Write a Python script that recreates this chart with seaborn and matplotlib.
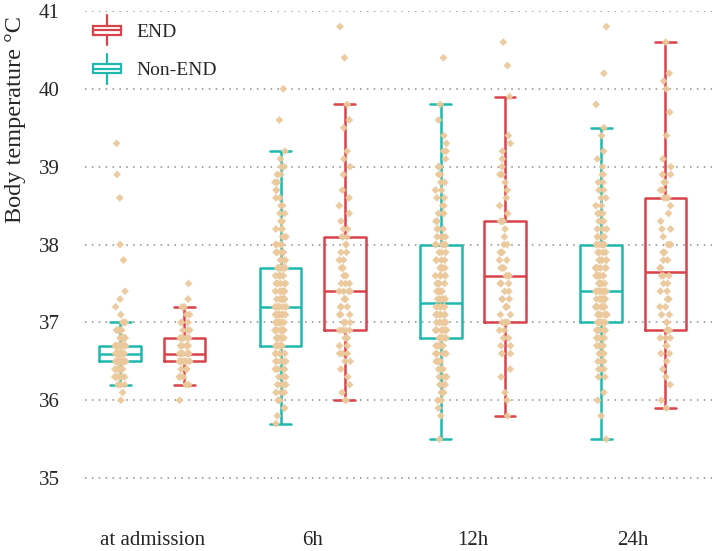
import numpy as np
import pandas as pd
import matplotlib
matplotlib.use("Agg")
import matplotlib.pyplot as plt
import seaborn as sns
from matplotlib.legend_handler import HandlerBase
from matplotlib.patches import Rectangle
from matplotlib.lines import Line2D

# time points and groups
TIMES = ["at admission", "6h", "12h", "24h"]
GROUPS = ["Non-END", "END"]

# observed temperatures as (value, number of patients)
adm_non_end = [(36.0, 1), (36.1, 1), (36.2, 3), (36.3, 8), (36.4, 10), (36.5, 18),
               (36.6, 25), (36.7, 22), (36.8, 8), (36.9, 5), (37.0, 4), (37.1, 1),
               (37.2, 1), (37.3, 1), (37.4, 1), (37.8, 1), (38.0, 1), (38.6, 1),
               (38.9, 1), (39.3, 1)]
adm_end = [(36.0, 1), (36.2, 2), (36.3, 3), (36.4, 3), (36.5, 10), (36.6, 8),
           (36.7, 6), (36.8, 8), (36.9, 3), (37.0, 3), (37.1, 2), (37.2, 2),
           (37.3, 1), (37.5, 1)]

h6_non_end = [(35.7, 1), (35.8, 1), (35.9, 2), (36.0, 3), (36.1, 3), (36.2, 4),
              (36.3, 4), (36.4, 5), (36.5, 6), (36.6, 6), (36.7, 8), (36.8, 8),
              (36.9, 8), (37.0, 9), (37.1, 8), (37.2, 8), (37.3, 7), (37.4, 7),
              (37.5, 7), (37.6, 6), (37.7, 8), (37.8, 4), (37.9, 4), (38.0, 4),
              (38.1, 3), (38.2, 3), (38.3, 3), (38.4, 2), (38.5, 2), (38.6, 2),
              (38.7, 2), (38.8, 2), (38.9, 2), (39.0, 2), (39.1, 1), (39.2, 1),
              (39.6, 1), (40.0, 1)]
h6_end = [(36.0, 2), (36.1, 1), (36.2, 1), (36.3, 1), (36.4, 1), (36.5, 2),
          (36.6, 3), (36.7, 2), (36.8, 3), (36.9, 4), (37.0, 3), (37.1, 3),
          (37.2, 3), (37.3, 3), (37.4, 4), (37.5, 3), (37.6, 2), (37.7, 3),
          (37.8, 2), (37.9, 2), (38.0, 2), (38.1, 3), (38.2, 2), (38.3, 1),
          (38.4, 1), (38.5, 1), (38.6, 1), (38.7, 1), (38.9, 1), (39.0, 1),
          (39.1, 1), (39.2, 1), (39.5, 1), (39.6, 1), (39.8, 1), (40.4, 1),
          (40.8, 1)]

h12_non_end = [(35.5, 1), (35.8, 1), (35.9, 1), (36.0, 3), (36.1, 3), (36.2, 4),
               (36.3, 4), (36.4, 5), (36.5, 5), (36.6, 5), (36.7, 5), (36.8, 8),
               (36.9, 8), (37.0, 8), (37.1, 7), (37.2, 7), (37.3, 7), (37.4, 6),
               (37.5, 6), (37.6, 5), (37.7, 5), (37.8, 4), (37.9, 3), (38.0, 6),
               (38.1, 4), (38.2, 3), (38.3, 3), (38.4, 3), (38.5, 2), (38.6, 2),
               (38.7, 2), (38.8, 2), (38.9, 2), (39.0, 2), (39.1, 1), (39.2, 2),
               (39.3, 1), (39.4, 1), (39.6, 1), (39.8, 1), (40.4, 1)]
h12_end = [(35.8, 1), (36.0, 1), (36.1, 1), (36.3, 1), (36.4, 1), (36.6, 2),
           (36.7, 2), (36.8, 2), (36.9, 2), (37.0, 5), (37.1, 2), (37.2, 3),
           (37.3, 3), (37.4, 2), (37.5, 3), (37.6, 4), (37.7, 3), (37.8, 2),
           (37.9, 3), (38.0, 2), (38.1, 1), (38.2, 1), (38.3, 3), (38.4, 1),
           (38.5, 1), (38.6, 1), (38.7, 1), (38.8, 1), (38.9, 2), (39.0, 1),
           (39.1, 1), (39.2, 1), (39.3, 1), (39.4, 1), (39.9, 1), (40.3, 1),
           (40.6, 1)]

h24_non_end = [(35.5, 1), (35.8, 1), (36.0, 1), (36.1, 1), (36.3, 2), (36.4, 3),
               (36.5, 4), (36.6, 5), (36.7, 5), (36.8, 6), (36.9, 7), (37.0, 10),
               (37.1, 8), (37.2, 8), (37.3, 8), (37.4, 9), (37.5, 8), (37.6, 7),
               (37.7, 7), (37.8, 6), (37.9, 4), (38.0, 8), (38.1, 4), (38.2, 3),
               (38.3, 3), (38.4, 3), (38.5, 2), (38.6, 2), (38.7, 2), (38.8, 2),
               (38.9, 2), (39.0, 1), (39.1, 1), (39.2, 1), (39.4, 1), (39.5, 1),
               (39.8, 1), (40.2, 1), (40.8, 1)]
h24_end = [(35.9, 1), (36.0, 1), (36.2, 1), (36.3, 1), (36.4, 1), (36.5, 1),
           (36.6, 2), (36.7, 2), (36.8, 3), (36.9, 4), (37.0, 2), (37.1, 2),
           (37.2, 2), (37.3, 2), (37.4, 2), (37.5, 2), (37.6, 3), (37.7, 2),
           (37.8, 2), (37.9, 2), (38.0, 3), (38.1, 1), (38.2, 2), (38.3, 1),
           (38.4, 1), (38.5, 1), (38.6, 3), (38.7, 2), (38.8, 2), (38.9, 2),
           (39.0, 1), (39.1, 1), (39.4, 1), (39.7, 1), (40.0, 1), (40.1, 1),
           (40.2, 1), (40.6, 1)]

SERIES = {
    ("at admission", "Non-END"): adm_non_end, ("at admission", "END"): adm_end,
    ("6h", "Non-END"): h6_non_end, ("6h", "END"): h6_end,
    ("12h", "Non-END"): h12_non_end, ("12h", "END"): h12_end,
    ("24h", "Non-END"): h24_non_end, ("24h", "END"): h24_end,
}

TEAL = "#1FB8AE"
RED = "#D8434A"
DOT = "#EBC99C"

rows = []
for (t, g), pairs in SERIES.items():
    for v, n in pairs:
        rows += [(t, g, v)] * n
df = pd.DataFrame(rows, columns=["time", "group", "temp"])


# little box glyph for the legend
class BoxHandler(HandlerBase):
    def create_artists(self, legend, orig_handle, xdescent, ydescent,
                       width, height, fontsize, trans):
        c = orig_handle.get_edgecolor()
        x0, y0 = -xdescent, -ydescent
        xm = x0 + width / 2
        box = Rectangle((x0, y0 + 0.2 * height), width, 0.6 * height,
                        fill=False, edgecolor=c, lw=1.6, transform=trans)
        med = Line2D([x0, x0 + width], [y0 + 0.5 * height] * 2, color=c, lw=1.6, transform=trans)
        w1 = Line2D([xm, xm], [y0 - 0.5 * height, y0 + 0.2 * height], color=c, lw=1.6, transform=trans)
        w2 = Line2D([xm, xm], [y0 + 0.8 * height, y0 + 1.5 * height], color=c, lw=1.6, transform=trans)
        return [box, med, w1, w2]


sns.set_style("white")
plt.rcParams["font.family"] = ["Liberation Serif", "DejaVu Serif"]
np.random.seed(3)

fig = plt.figure(figsize=(7.14, 5.51), dpi=100)
ax = fig.add_axes([0.119, 0.056, 0.878, 0.924])

sns.boxplot(data=df, x="time", y="temp", hue="group", order=TIMES, hue_order=GROUPS,
            palette={"Non-END": TEAL, "END": RED}, fill=False, showfliers=False,
            width=0.8, gap=0.35, linewidth=1.8, legend=False, ax=ax)
sns.stripplot(data=df, x="time", y="temp", hue="group", order=TIMES, hue_order=GROUPS,
              palette={"Non-END": DOT, "END": DOT}, dodge=True, jitter=0.07,
              marker="D", size=4, linewidth=0, alpha=0.95, legend=False, zorder=3, ax=ax)

ax.set_ylim(34.46, 41.0)
ax.set_xlim(-0.42, 3.49)
ax.set_yticks([35, 36, 37, 38, 39, 40, 41])
ax.yaxis.grid(True, color="#8a8a8a", linestyle=(0, (1, 3.5)), linewidth=1.1)
ax.xaxis.grid(False)
ax.set_axisbelow(True)
for s in ax.spines.values():
    s.set_visible(False)
ax.tick_params(axis="y", length=0, pad=18, labelsize=15)
ax.tick_params(axis="x", length=0, pad=8, labelsize=15)
ax.set_xlabel("")
ax.set_ylabel("Body temperature °C", fontsize=17.5)
ax.yaxis.set_label_coords(-0.094, 0.786)

handles = [Rectangle((0, 0), 1, 1, edgecolor=RED, facecolor="none"),
           Rectangle((0, 0), 1, 1, edgecolor=TEAL, facecolor="none")]
ax.legend(handles, ["END", "Non-END"], loc="upper left", bbox_to_anchor=(-0.005, 1.0),
          frameon=False, fontsize=14, handlelength=1.4, handleheight=0.8,
          labelspacing=1.05, handletextpad=0.8, borderaxespad=0.2,
          handler_map={Rectangle: BoxHandler()})

plt.savefig("out.png", dpi=100)
